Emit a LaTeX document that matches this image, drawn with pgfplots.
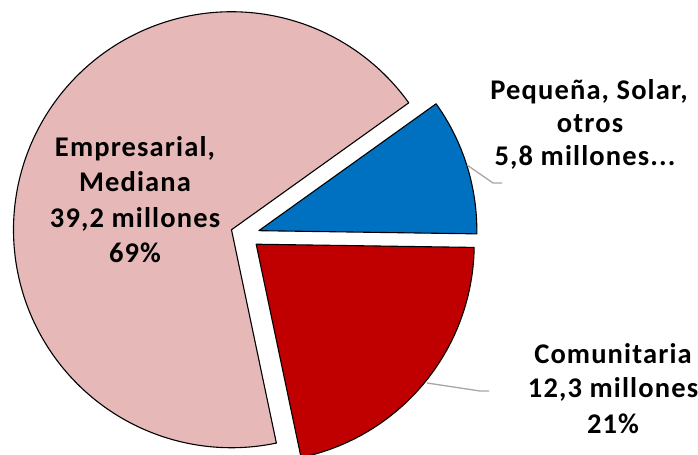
\documentclass[border=0pt]{standalone}
\usepackage{fontspec}
\setmainfont{Carlito}
\usepackage{pgfplots}
\pgfplotsset{compat=1.18}
\definecolor{piepink}{HTML}{E6B9B8}
\definecolor{pieblue}{HTML}{0070C0}
\definecolor{piered}{HTML}{C00000}
\definecolor{leader}{HTML}{A6A6A6}
\begin{document}
\begin{tikzpicture}
\useasboundingbox (0,0) rectangle (698bp,455bp);
% data (millones)
\pgfmathsetmacro{\vE}{39.2}% Empresarial, Mediana
\pgfmathsetmacro{\vC}{12.3}% Comunitaria
\pgfmathsetmacro{\vP}{5.8}% Pequena, Solar, otros
\pgfmathsetmacro{\tot}{\vE+\vC+\vP}
\pgfmathsetmacro{\S}{35.6}
\pgfmathsetmacro{\bA}{\S-\vP/\tot*360}
\pgfmathsetmacro{\rA}{\bA-\vC/\tot*360}
\pgfmathsetmacro{\pE}{\rA+360}
\pgfmathsetmacro{\bM}{(\bA+\S)/2}
\pgfmathsetmacro{\rM}{(\rA+\bA)/2}
\pgfmathsetmacro{\pM}{(\S+\pE)/2}
\pgfmathsetmacro{\cx}{245}
\pgfmathsetmacro{\cy}{-235}
\pgfmathsetmacro{\ex}{14.5}
\pgfmathsetmacro{\R}{218}
\pgfmathsetmacro{\bx}{\cx+\ex*cos(\bM)}
\pgfmathsetmacro{\by}{\cy+\ex*sin(\bM)}
\pgfmathsetmacro{\rx}{\cx+\ex*cos(\rM)}
\pgfmathsetmacro{\ry}{\cy+\ex*sin(\rM)}
\pgfmathsetmacro{\px}{\cx+\ex*cos(\pM)}
\pgfmathsetmacro{\py}{\cy+\ex*sin(\pM)}
\begin{axis}[at={(0,0)}, anchor=south west, width=698bp, height=455bp,
  scale only axis, xmin=0, xmax=698, ymin=-455, ymax=0, hide axis, clip=true]
\addplot[draw=black, line width=1.1bp, line join=round, fill=piepink, no markers,
  domain=\S:\pE, samples=200, variable=\t]
  ({\px+\R*cos(\t)},{\py+\R*sin(\t)}) -- (axis cs:\px,\py) -- cycle;
\addplot[draw=black, line width=1.1bp, line join=round, fill=pieblue, no markers,
  domain=\bA:\S, samples=60, variable=\t]
  ({\bx+\R*cos(\t)},{\by+\R*sin(\t)}) -- (axis cs:\bx,\by) -- cycle;
\addplot[draw=black, line width=1.1bp, line join=round, fill=piered, no markers,
  domain=\rA:\bA, samples=100, variable=\t]
  ({\rx+\R*cos(\t)},{\ry+\R*sin(\t)}) -- (axis cs:\rx,\ry) -- cycle;
% leader lines
\addplot[leader, line width=1.3bp, no markers] coordinates {(467,-165) (493,-183) (502,-183)};
\addplot[leader, line width=1.3bp, no markers] coordinates {(427,-383) (480,-391) (489,-391)};
% labels
\tikzset{lbl/.style={anchor=base, inner sep=0pt, font=\bfseries\fontsize{28.5bp}{30bp}\selectfont\addfontfeature{LetterSpace=4}}}
\node[lbl] at (axis cs:135,-156.7) {Empresarial,};
\node[lbl] at (axis cs:135,-191.7) {Mediana};
\node[lbl] at (axis cs:135,-227.3) {39,2 millones};
\node[lbl] at (axis cs:135,-262.7) {69\%};
\node[lbl] at (axis cs:589,-99.5) {Pequeña, Solar,};
\node[lbl] at (axis cs:590,-132.5) {otros};
\node[lbl] at (axis cs:585,-166) {5,8 millones...};
\node[lbl] at (axis cs:613,-363.3) {Comunitaria};
\node[lbl] at (axis cs:613,-398) {12,3 millones};
\node[lbl] at (axis cs:613,-433.3) {21\%};
\end{axis}
\end{tikzpicture}
\end{document}
